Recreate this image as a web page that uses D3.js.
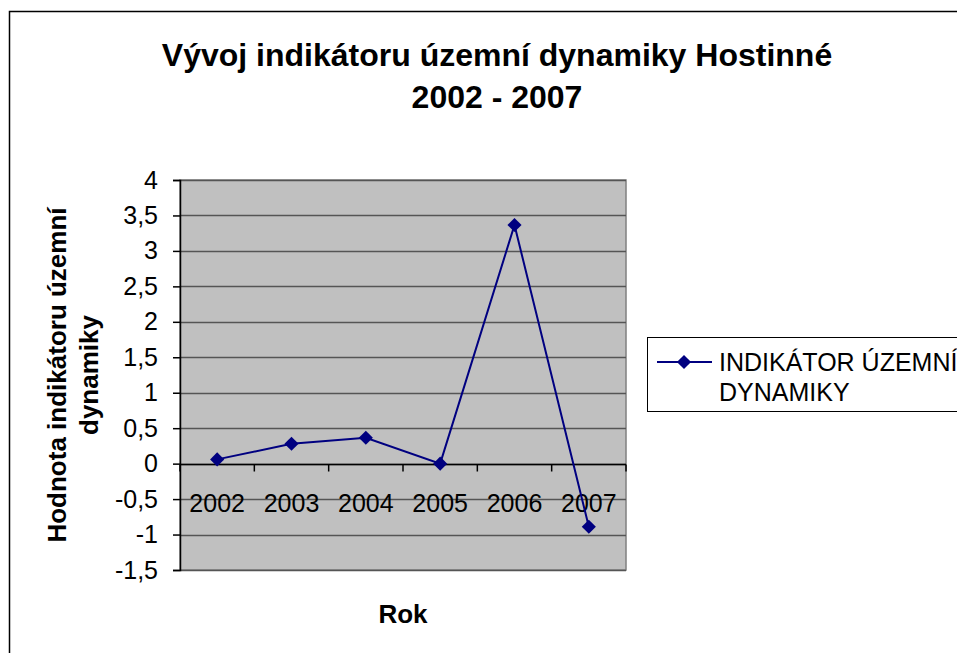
<!DOCTYPE html>
<html><head><meta charset="utf-8">
<script src="https://cdn.jsdelivr.net/npm/d3@7"></script>
<style>body{margin:0;background:#fff;overflow:hidden}svg{display:block;font-family:Arial,"Liberation Sans",sans-serif}</style>
</head><body>
<script>
const categories = ["2002","2003","2004","2005","2006","2007"];
const values = [0.06, 0.28, 0.365, 0.0, 3.365, -0.89];
const yTicks = [-1.5,-1,-0.5,0,0.5,1,1.5,2,2.5,3,3.5,4];
const seriesName = ["INDIKÁTOR ÚZEMNÍ","DYNAMIKY"];
const titleLines = ["Vývoj indikátoru územní dynamiky Hostinné","2002 - 2007"];
const yTitleLines = ["Hodnota indikátoru územní","dynamiky"];
const xTitle = "Rok";

const W=957,H=653;
const svg=d3.select("body").append("svg").attr("width",W).attr("height",H);
svg.append("rect").attr("x",9.5).attr("y",11.5).attr("width",1000).attr("height",1000).attr("fill","#fff").attr("stroke","#000").attr("stroke-width",1.5);

const L=180,R=626,T=180,B=570;
const x=d3.scaleBand().domain(categories).range([L,R]);
const y=d3.scaleLinear().domain([-1.5,4]).range([B,T]);

svg.append("rect").attr("x",L).attr("y",T).attr("width",R-L).attr("height",B-T).attr("fill","#c0c0c0").attr("stroke","#808080").attr("stroke-width",1.5);

// gridlines
svg.append("g").selectAll("line").data(yTicks).join("line")
 .attr("x1",L).attr("x2",R).attr("y1",d=>Math.round(y(d))+0.5).attr("y2",d=>Math.round(y(d))+0.5)
 .attr("stroke","#555").attr("stroke-width",1.5);

// y axis
const ya=svg.append("g").attr("transform",`translate(${L},0)`)
 .call(d3.axisLeft(y).tickValues(yTicks).tickSize(7).tickPadding(15).tickFormat(d=>String(d).replace(".",",")));
ya.select(".domain").attr("stroke","#000").attr("stroke-width",1.5);
ya.selectAll(".tick line").attr("stroke","#000").attr("stroke-width",1.5);
ya.selectAll("text").attr("font-size",25).attr("fill","#000").attr("font-family","Arial,'Liberation Sans',sans-serif");

// x axis at zero
const y0=Math.round(y(0))+0.5;
svg.append("line").attr("x1",L).attr("x2",R).attr("y1",y0).attr("y2",y0).attr("stroke","#000").attr("stroke-width",1.5);
const bounds=categories.map(c=>x(c)).concat([R]);
svg.append("g").selectAll("line").data(bounds).join("line")
 .attr("x1",d=>d).attr("x2",d=>d).attr("y1",y0).attr("y2",y0+7).attr("stroke","#000").attr("stroke-width",1.5);
svg.append("g").selectAll("text").data(categories).join("text")
 .attr("x",d=>x(d)+x.bandwidth()/2).attr("y",512).attr("text-anchor","middle").attr("font-size",25).attr("fill","#000").text(d=>d);

// line
const pts=categories.map((c,i)=>[x(c)+x.bandwidth()/2,y(values[i])]);
svg.append("path").attr("d",d3.line()(pts)).attr("fill","none").attr("stroke","#000080").attr("stroke-width",2);
svg.append("g").selectAll("path").data(pts).join("path")
 .attr("d",d3.symbol().type(d3.symbolSquare).size(100)).attr("transform",d=>`translate(${d[0]},${d[1]}) rotate(45)`).attr("fill","#000080");

// title
svg.append("g").selectAll("text").data(titleLines).join("text")
 .attr("x",497).attr("y",(d,i)=>66+i*42).attr("text-anchor","middle").attr("font-size",32).attr("font-weight","bold").text(d=>d);

// y title
svg.append("g").attr("transform","translate(0,375)").selectAll("text").data(yTitleLines).join("text")
 .attr("transform",(d,i)=>`translate(${66+i*32},0) rotate(-90)`).attr("text-anchor","middle").attr("font-size",26).attr("font-weight","bold").text(d=>d);

svg.append("text").attr("x",403).attr("y",623).attr("text-anchor","middle").attr("font-size",26).attr("font-weight","bold").text(xTitle);

// legend
svg.append("rect").attr("x",647.5).attr("y",337.5).attr("width",400).attr("height",74).attr("fill","#fff").attr("stroke","#000").attr("stroke-width",1);
svg.append("line").attr("x1",657).attr("x2",712).attr("y1",362).attr("y2",362).attr("stroke","#000080").attr("stroke-width",2);
svg.append("path").attr("transform","translate(684,362) rotate(45)").attr("d",d3.symbol().type(d3.symbolSquare).size(100)).attr("fill","#000080");
svg.append("g").selectAll("text").data(seriesName).join("text")
 .attr("x",719).attr("y",(d,i)=>371+i*30).attr("font-size",25).text(d=>d);
</script>
</body></html>
